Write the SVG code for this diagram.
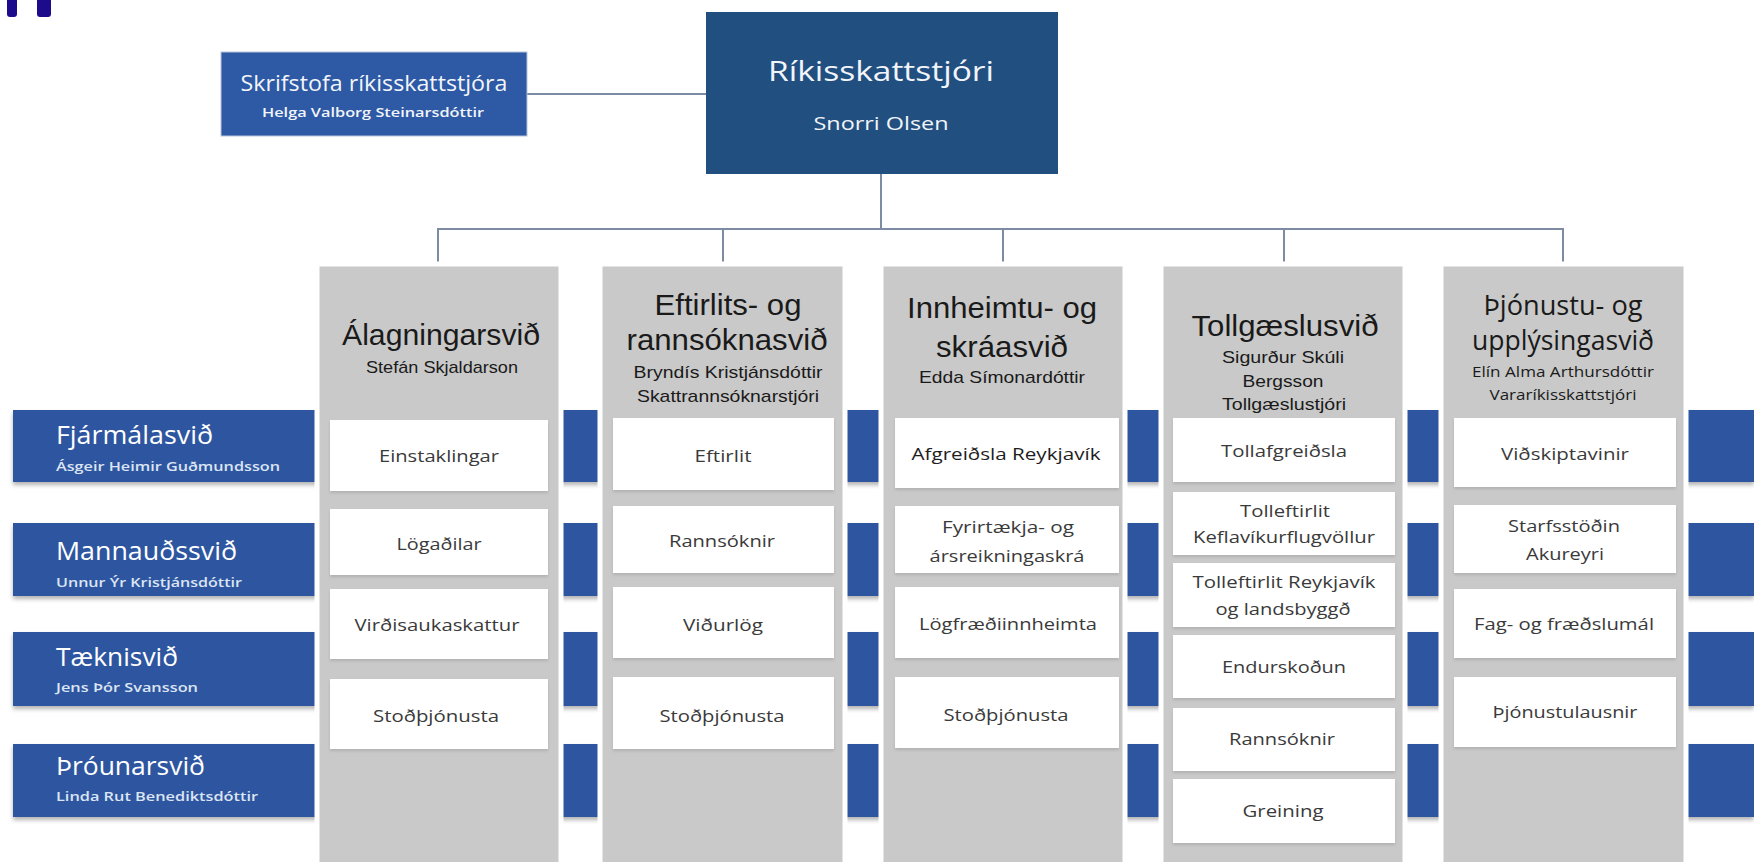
<svg xmlns="http://www.w3.org/2000/svg" width="1754" height="862" viewBox="0 0 1754 862">
<defs>
<filter id="sh" x="-5%" y="-20%" width="110%" height="150%">
<feDropShadow dx="0" dy="3" stdDeviation="2" flood-color="#000" flood-opacity="0.3"/>
</filter>
<filter id="sh2" x="-5%" y="-10%" width="110%" height="130%">
<feDropShadow dx="0" dy="2" stdDeviation="1.5" flood-color="#000" flood-opacity="0.12"/>
</filter>
</defs>
<style>
.band{fill:#2d56a0;filter:url(#sh)}
.col{fill:#c9c9c9;stroke:#fff;stroke-width:5}
.item{fill:#fff;filter:url(#sh2)}
.hd{font-family:"Liberation Sans",Arial,sans-serif;fill:#1a1a1a;text-anchor:middle}
.h1{font-size:29px}
.h2{font-size:17px}
.cal{font-family:"Open Sans","Noto Sans",sans-serif;fill:#1a1a1a;text-anchor:middle}
.it{font-family:"Open Sans","Noto Sans",sans-serif;font-size:17px;fill:#3a3a3a;text-anchor:middle}
.bt{font-family:"Open Sans","Noto Sans",sans-serif;fill:#fff;font-size:25px}
.bs{font-family:"Open Sans","Noto Sans",sans-serif;font-weight:600;fill:#dce5f4;font-size:13px}
.conn{stroke:#7d8ca3;stroke-width:2;fill:none}
.wt{font-family:"Open Sans","Noto Sans",sans-serif;fill:#f2f5fa;text-anchor:middle}
</style>
<rect width="1754" height="862" fill="#fff"/>
<g id="marks" fill="#1c0c8c">
<rect x="7" y="-6" width="10" height="23" rx="3"/>
<rect x="37" y="-6" width="14" height="23" rx="3"/>
</g>
<g id="band-fjarmal">
<rect class="band" x="13" y="410" width="1741" height="72"/>
<text class="bt" x="56" y="444" textLength="157" lengthAdjust="spacingAndGlyphs">Fjármálasvið</text>
<text class="bs" x="56" y="471" textLength="224" lengthAdjust="spacingAndGlyphs">Ásgeir Heimir Guðmundsson</text>
</g>
<g id="band-mannaud">
<rect class="band" x="13" y="523" width="1741" height="73"/>
<text class="bt" x="56" y="560" textLength="181" lengthAdjust="spacingAndGlyphs">Mannauðssvið</text>
<text class="bs" x="56" y="587" textLength="186" lengthAdjust="spacingAndGlyphs">Unnur Ýr Kristjánsdóttir</text>
</g>
<g id="band-taekni">
<rect class="band" x="13" y="632" width="1741" height="74"/>
<text class="bt" x="56" y="666" textLength="122" lengthAdjust="spacingAndGlyphs">Tæknisvið</text>
<text class="bs" x="56" y="692" textLength="142" lengthAdjust="spacingAndGlyphs">Jens Þór Svansson</text>
</g>
<g id="band-throun">
<rect class="band" x="13" y="744" width="1741" height="73"/>
<text class="bt" x="56" y="775" textLength="149" lengthAdjust="spacingAndGlyphs">Þróunarsvið</text>
<text class="bs" x="56" y="801" textLength="202" lengthAdjust="spacingAndGlyphs">Linda Rut Benediktsdóttir</text>
</g>
<g id="connectors">
<line class="conn" x1="527" y1="94" x2="706" y2="94"/>
<line class="conn" x1="881" y1="174" x2="881" y2="229"/>
<polyline class="conn" points="438,264 438,229 1563,229 1563,264"/>
<line class="conn" x1="723" y1="229" x2="723" y2="264"/>
<line class="conn" x1="1003" y1="229" x2="1003" y2="264"/>
<line class="conn" x1="1284" y1="229" x2="1284" y2="264"/>
</g>
<g id="skrifstofa">
<rect x="221" y="52" width="306" height="84" fill="#2d59a5" stroke="#b8c4d8" stroke-width="1"/>
<text class="wt" x="374" y="91" font-size="21" textLength="267" lengthAdjust="spacingAndGlyphs">Skrifstofa ríkisskattstjóra</text>
<text class="wt" x="373" y="117" font-size="13" font-weight="600" textLength="222" lengthAdjust="spacingAndGlyphs">Helga Valborg Steinarsdóttir</text>
</g>
<g id="rikisskattstjori">
<rect x="706" y="12" width="352" height="162" fill="#215080"/>
<text class="wt" x="881" y="81" font-size="27" textLength="226" lengthAdjust="spacingAndGlyphs">Ríkisskattstjóri</text>
<text class="wt" x="881" y="130" font-size="19" textLength="135" lengthAdjust="spacingAndGlyphs">Snorri Olsen</text>
</g>
<g id="col-alagning">
<rect class="col" x="317" y="264" width="244" height="610"/>
<text class="hd h1" x="441" y="345" textLength="198" lengthAdjust="spacingAndGlyphs">Álagningarsvið</text>
<text class="hd h2" x="442" y="373" textLength="152" lengthAdjust="spacingAndGlyphs">Stefán Skjaldarson</text>
<g id="a1"><rect class="item" x="330" y="420" width="218" height="71"/><text class="it" x="439" y="462" textLength="120" lengthAdjust="spacingAndGlyphs">Einstaklingar</text></g>
<g id="a2"><rect class="item" x="330" y="509" width="218" height="66"/><text class="it" x="439" y="550" textLength="85" lengthAdjust="spacingAndGlyphs">Lögaðilar</text></g>
<g id="a3"><rect class="item" x="330" y="589" width="218" height="70"/><text class="it" x="437" y="631" textLength="165" lengthAdjust="spacingAndGlyphs">Virðisaukaskattur</text></g>
<g id="a4"><rect class="item" x="330" y="679" width="218" height="70"/><text class="it" x="436" y="722" textLength="126" lengthAdjust="spacingAndGlyphs">Stoðþjónusta</text></g>
</g>
<g id="col-eftirlit">
<rect class="col" x="600" y="264" width="245" height="610"/>
<text class="hd h1" x="728" y="315" textLength="147" lengthAdjust="spacingAndGlyphs">Eftirlits- og</text>
<text class="hd h1" x="727" y="350" textLength="201" lengthAdjust="spacingAndGlyphs">rannsóknasvið</text>
<text class="hd h2" x="728" y="378" textLength="189" lengthAdjust="spacingAndGlyphs">Bryndís Kristjánsdóttir</text>
<text class="hd h2" x="728" y="402" textLength="182" lengthAdjust="spacingAndGlyphs">Skattrannsóknarstjóri</text>
<g id="e1"><rect class="item" x="613" y="418" width="221" height="72"/><text class="it" x="723" y="462" textLength="57" lengthAdjust="spacingAndGlyphs">Eftirlit</text></g>
<g id="e2"><rect class="item" x="613" y="506" width="221" height="67"/><text class="it" x="722" y="547" textLength="106" lengthAdjust="spacingAndGlyphs">Rannsóknir</text></g>
<g id="e3"><rect class="item" x="613" y="587" width="221" height="71"/><text class="it" x="723" y="631" textLength="80" lengthAdjust="spacingAndGlyphs">Viðurlög</text></g>
<g id="e4"><rect class="item" x="613" y="677" width="221" height="72"/><text class="it" x="722" y="722" textLength="125" lengthAdjust="spacingAndGlyphs">Stoðþjónusta</text></g>
</g>
<g id="col-innheimta">
<rect class="col" x="881" y="264" width="244" height="610"/>
<text class="hd h1" x="1002" y="318" font-size="30" textLength="190" lengthAdjust="spacingAndGlyphs">Innheimtu- og</text>
<text class="hd h1" x="1002" y="357" font-size="30" textLength="132" lengthAdjust="spacingAndGlyphs">skráasvið</text>
<text class="hd h2" x="1002" y="383" textLength="166" lengthAdjust="spacingAndGlyphs">Edda Símonardóttir</text>
<g id="i1"><rect class="item" x="895" y="418" width="224" height="70"/><text class="it" x="1006" y="460" fill="#1e1e1e" style="fill:#1e1e1e" textLength="189" lengthAdjust="spacingAndGlyphs">Afgreiðsla Reykjavík</text></g>
<g id="i2"><rect class="item" x="895" y="506" width="224" height="67"/><text class="it" x="1008" y="533" textLength="132" lengthAdjust="spacingAndGlyphs">Fyrirtækja- og</text><text class="it" x="1007" y="562" textLength="155" lengthAdjust="spacingAndGlyphs">ársreikningaskrá</text></g>
<g id="i3"><rect class="item" x="895" y="587" width="224" height="71"/><text class="it" x="1008" y="630" textLength="178" lengthAdjust="spacingAndGlyphs">Lögfræðiinnheimta</text></g>
<g id="i4"><rect class="item" x="895" y="677" width="224" height="71"/><text class="it" x="1006" y="721" textLength="125" lengthAdjust="spacingAndGlyphs">Stoðþjónusta</text></g>
</g>
<g id="col-tollgaesla">
<rect class="col" x="1161" y="264" width="244" height="610"/>
<text class="hd h1" x="1285" y="336" font-size="30" textLength="187" lengthAdjust="spacingAndGlyphs">Tollgæslusvið</text>
<text class="hd h2" x="1283" y="363" textLength="122" lengthAdjust="spacingAndGlyphs">Sigurður Skúli</text>
<text class="hd h2" x="1283" y="387" textLength="81" lengthAdjust="spacingAndGlyphs">Bergsson</text>
<text class="hd h2" x="1284" y="410" textLength="124" lengthAdjust="spacingAndGlyphs">Tollgæslustjóri</text>
<g id="t1"><rect class="item" x="1173" y="418" width="222" height="64"/><text class="it" x="1284" y="457" textLength="126" lengthAdjust="spacingAndGlyphs">Tollafgreiðsla</text></g>
<g id="t2"><rect class="item" x="1173" y="492" width="222" height="63"/><text class="it" x="1285" y="517" textLength="90" lengthAdjust="spacingAndGlyphs">Tolleftirlit</text><text class="it" x="1284" y="543" textLength="182" lengthAdjust="spacingAndGlyphs">Keflavíkurflugvöllur</text></g>
<g id="t3"><rect class="item" x="1173" y="563" width="222" height="64"/><text class="it" x="1284" y="588" textLength="183" lengthAdjust="spacingAndGlyphs">Tolleftirlit Reykjavík</text><text class="it" x="1283" y="615" textLength="135" lengthAdjust="spacingAndGlyphs">og landsbyggð</text></g>
<g id="t4"><rect class="item" x="1173" y="635" width="222" height="63"/><text class="it" x="1284" y="673" textLength="124" lengthAdjust="spacingAndGlyphs">Endurskoðun</text></g>
<g id="t5"><rect class="item" x="1173" y="708" width="222" height="63"/><text class="it" x="1282" y="745" textLength="106" lengthAdjust="spacingAndGlyphs">Rannsóknir</text></g>
<g id="t6"><rect class="item" x="1173" y="779" width="222" height="64"/><text class="it" x="1283" y="817" textLength="81" lengthAdjust="spacingAndGlyphs">Greining</text></g>
</g>
<g id="col-thjonusta">
<rect class="col" x="1441" y="264" width="245" height="610"/>
<text class="cal" x="1563" y="315" font-size="27" textLength="159" lengthAdjust="spacingAndGlyphs">Þjónustu- og</text>
<text class="cal" x="1563" y="350" font-size="27" textLength="182" lengthAdjust="spacingAndGlyphs">upplýsingasvið</text>
<text class="cal" x="1563" y="377" font-size="15" textLength="182" lengthAdjust="spacingAndGlyphs">Elín Alma Arthursdóttir</text>
<text class="cal" x="1563" y="400" font-size="15" textLength="147" lengthAdjust="spacingAndGlyphs">Vararíkisskattstjóri</text>
<g id="th1"><rect class="item" x="1454" y="418" width="222" height="69"/><text class="it" x="1565" y="460" textLength="128" lengthAdjust="spacingAndGlyphs">Viðskiptavinir</text></g>
<g id="th2"><rect class="item" x="1454" y="505" width="222" height="68"/><text class="it" x="1564" y="532" textLength="112" lengthAdjust="spacingAndGlyphs">Starfsstöðin</text><text class="it" x="1565" y="560" textLength="78" lengthAdjust="spacingAndGlyphs">Akureyri</text></g>
<g id="th3"><rect class="item" x="1454" y="589" width="222" height="69"/><text class="it" x="1564" y="630" textLength="180" lengthAdjust="spacingAndGlyphs">Fag- og fræðslumál</text></g>
<g id="th4"><rect class="item" x="1454" y="677" width="222" height="70"/><text class="it" x="1565" y="718" textLength="145" lengthAdjust="spacingAndGlyphs">Þjónustulausnir</text></g>
</g>
</svg>
